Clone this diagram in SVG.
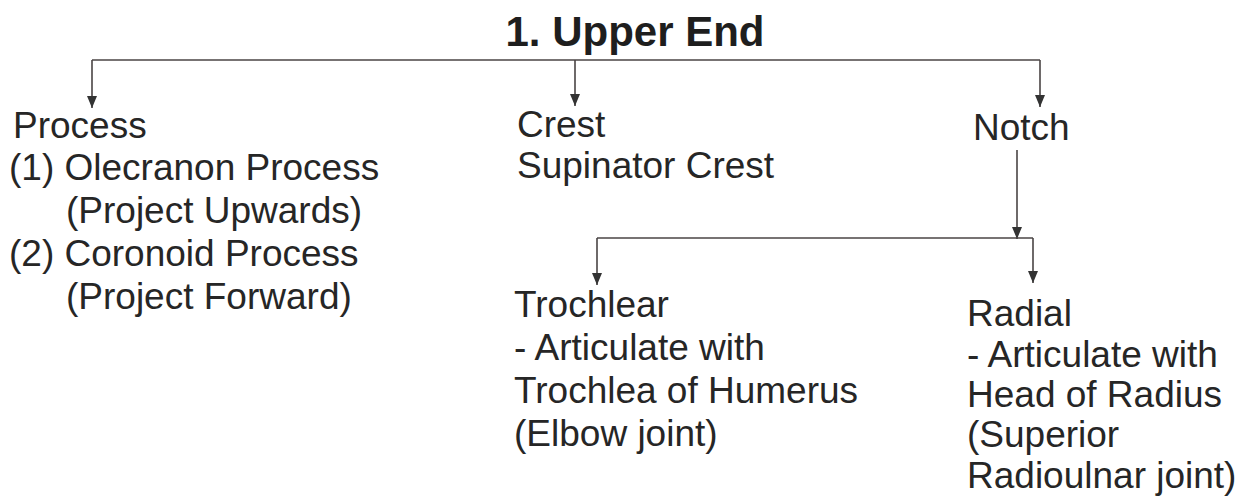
<svg xmlns="http://www.w3.org/2000/svg" width="1252" height="497" viewBox="0 0 1252 497">
<style>
text{font-family:"Liberation Sans",Arial,sans-serif;font-size:37px;fill:#262626}
.t{font-weight:bold;font-size:42px;fill:#1e1e1e}
.c{stroke:#4a4444;stroke-width:1.6;fill:none}
</style>
<defs>
<marker id="ah" viewBox="0 0 12 10" refX="12" refY="5" markerWidth="12" markerHeight="10" markerUnits="userSpaceOnUse" orient="auto">
<path d="M0,0 L12,5 L0,10 Z" fill="#333"/>
</marker>
</defs>
<rect width="1252" height="497" fill="#fff"/>
<g id="connectors">
<path class="c" d="M92,60 H1040"/>
<path class="c" d="M92,60 V108" marker-end="url(#ah)"/>
<path class="c" d="M575,60 V106" marker-end="url(#ah)"/>
<path class="c" d="M1040,60 V107" marker-end="url(#ah)"/>
<path class="c" d="M1017,150 V239" marker-end="url(#ah)"/>
<path class="c" d="M597,238 H1033"/>
<path class="c" d="M597,238 V285" marker-end="url(#ah)"/>
<path class="c" d="M1033,238 V283" marker-end="url(#ah)"/>
</g>
<g id="title"><text class="t" x="635" y="46" text-anchor="middle">1. Upper End</text></g>
<g id="process">
<text x="13" y="138">Process</text>
<text x="9" y="180">(1) Olecranon Process</text>
<text x="66" y="223">(Project Upwards)</text>
<text x="9" y="266">(2) Coronoid Process</text>
<text x="66" y="309">(Project Forward)</text>
</g>
<g id="crest">
<text x="517" y="137">Crest</text>
<text x="517" y="178">Supinator Crest</text>
</g>
<g id="notch"><text x="973" y="140">Notch</text></g>
<g id="trochlear">
<text x="514" y="317">Trochlear</text>
<text x="514" y="360">- Articulate with</text>
<text x="514" y="403">Trochlea of Humerus</text>
<text x="514" y="446">(Elbow joint)</text>
</g>
<g id="radial">
<text x="967" y="326">Radial</text>
<text x="967" y="367">- Articulate with</text>
<text x="967" y="407">Head of Radius</text>
<text x="967" y="447">(Superior</text>
<text x="967" y="488">Radioulnar joint)</text>
</g>
</svg>
